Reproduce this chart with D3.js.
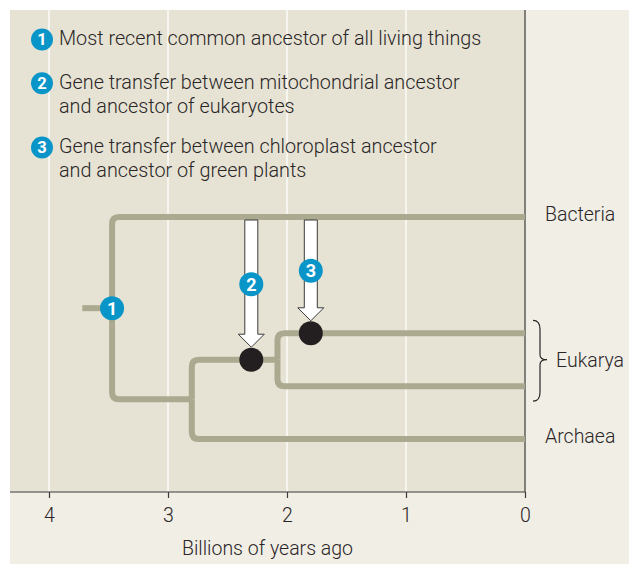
<!DOCTYPE html>
<html><head><meta charset="utf-8">
<script src="https://cdn.jsdelivr.net/npm/d3@7"></script>
<style>body{margin:0;background:#fff}svg{display:block}text{font-family:Roboto,sans-serif;fill:#2a2627}</style>
</head><body>
<svg id="c" width="629" height="566"></svg>
<script>
// ---- data ----
const tickValues = [4, 3, 2, 1, 0];
const axisTitle = "Billions of years ago";

const legendNumbers = [1, 2, 3];
const legendLines = [
  ["Most recent common ancestor of all living things"],
  ["Gene transfer between mitochondrial ancestor", "and ancestor of eukaryotes"],
  ["Gene transfer between chloroplast ancestor", "and ancestor of green plants"]
];

// tree (times in billions of years ago)
const nodeIds   = ["root", "LUCA", "Bacteria", "AE", "Euk", "Euk1", "Euk2", "Archaea"];
const nodeParent = ["", "root", "LUCA", "LUCA", "AE", "Euk", "Euk", "AE"];
const nodeTime  = [3.72, 3.47, 0, 2.80, 2.08, 0, 0, 0];
const leafRow   = {Bacteria: 0, Euk1: 2.2, Euk2: 3.2, Archaea: 4.2};

const groupLabels = ["Bacteria", "Eukarya", "Archaea"];
const groupRows   = [0, 2.7, 4.2];
const groupBraced = [false, true, false];

// gene-transfer events
const eventNumbers = [2, 3];
const eventTimes   = [2.30, 1.80];
const eventBranch  = ["Euk", "Euk1"];

// ---- drawing ----
const svg = d3.select("#c");
const C = {outer:"#f1eee6", plot:"#e6e3d4", tree:"#aba98f", blue:"#0a95c8", dot:"#231f20", ink:"#2a2627"};
const plotL = 10, plotT = 10, plotR = 525, plotB = 492;
const FS = 19.5;

const x = d3.scaleLinear().domain([4, 0]).range([49, 525]);
const y = d3.scaleLinear().domain([0, 4.2]).range([217, 439]);

svg.append("rect").attr("x", plotL).attr("y", plotT).attr("width", 629 - plotL).attr("height", 564 - plotT).attr("fill", C.outer);
svg.append("rect").attr("x", plotL).attr("y", plotT).attr("width", plotR - plotL).attr("height", plotB - plotT).attr("fill", C.plot);

// grid
svg.append("g").selectAll("line").data(tickValues.filter(d => d !== 0)).join("line")
  .attr("x1", d => x(d)).attr("x2", d => x(d)).attr("y1", plotT).attr("y2", plotB)
  .attr("stroke", "#fff").attr("stroke-width", 1.3);

// right border & axis
svg.append("line").attr("x1", plotR).attr("x2", plotR).attr("y1", plotT).attr("y2", plotB).attr("stroke", "#3a3a3a").attr("stroke-width", 1.2);
svg.append("line").attr("x1", plotL).attr("x2", plotR).attr("y1", plotB).attr("y2", plotB).attr("stroke", "#3a3a3a").attr("stroke-width", 1.2);
const ax = svg.append("g").attr("transform", `translate(0,${plotB})`)
  .call(d3.axisBottom(x).tickValues(tickValues).tickSize(6).tickPadding(10).tickFormat(d3.format("d")));
ax.select(".domain").remove();
ax.selectAll(".tick line").attr("stroke", "#3a3a3a").attr("stroke-width", 1.2);
ax.selectAll(".tick text").style("font-family", "Roboto,sans-serif").style("font-size", FS + "px").style("font-weight", 300).attr("fill", C.ink);
svg.append("text").attr("x", (plotL + plotR) / 2).attr("y", 548).attr("dy", "0.35em").attr("text-anchor", "middle")
  .style("font-size", FS + "px").style("font-weight", 300).text(axisTitle);

// tree
const table = nodeIds.map((id, i) => ({id, parent: nodeParent[i] || null, t: nodeTime[i]}));
const root = d3.stratify().id(d => d.id).parentId(d => d.parent)(table);
root.eachAfter(n => {
  if (!n.children) n.py = y(leafRow[n.id]);
  else n.py = (n.children[0].py + n.children[n.children.length - 1].py) / 2;
  n.px = x(n.data.t);
});
const r = 7;
function elbow(p, c) {
  const x0 = p.px, y0 = p.py, x1 = c.px, y1 = c.py;
  if (Math.abs(y1 - y0) < 0.5) return `M${x0},${y0}H${x1}`;
  const s = y1 > y0 ? 1 : -1;
  return `M${x0},${y0}V${y1 - s * r}Q${x0},${y1} ${x0 + r},${y1}H${x1}`;
}
svg.append("g").selectAll("path").data(root.links()).join("path")
  .attr("d", l => elbow(l.source, l.target))
  .attr("fill", "none").attr("stroke", C.tree).attr("stroke-width", 6).attr("stroke-linecap", "butt");

function badge(g, cx, cy, n, rad) {
  g.append("circle").attr("cx", cx).attr("cy", cy).attr("r", rad).attr("fill", C.blue);
  g.append("text").attr("x", cx).attr("y", cy).attr("dy", "0.36em").attr("text-anchor", "middle")
    .style("font-size", (rad * 1.5) + "px").style("font-weight", "bold").style("fill", "#fff").text(n);
}

// LUCA badge
const luca = root.descendants().find(n => n.id === "LUCA");
badge(svg.append("g"), luca.px, luca.py, 1, 12);

// events: dots, arrows, badges
const evG = svg.append("g");
eventNumbers.forEach((n, i) => {
  const node = root.descendants().find(d => d.id === eventBranch[i]);
  const cx = x(eventTimes[i]), cy = node.py, dr = 12;
  evG.append("circle").attr("cx", cx).attr("cy", cy).attr("r", dr).attr("fill", C.dot);
  const tip = cy - dr - 0.5, top = 220, hw = 6.5, hh = 13, hW = 13;
  evG.append("path")
    .attr("d", `M${cx - hw},${top}H${cx + hw}V${tip - hh}H${cx + hW}L${cx},${tip}L${cx - hW},${tip - hh}H${cx - hw}Z`)
    .attr("fill", "#fff").attr("stroke", "#3a3a3a").attr("stroke-width", 1);
  badge(evG, cx, tip - hh - (i === 0 ? 50 : 37), n, 12);
});

// leaf labels
groupLabels.forEach((lab, i) => {
  const yy = y(groupRows[i]);
  if (groupBraced[i]) {
    const x0 = 533, x1 = 548, y0 = y(2.2) - 13, y1 = y(3.2) + 15, ym = yy;
    const q = 5;
    svg.append("path").attr("d",
      `M${x0},${y0}Q${x0 + 7},${y0} ${x0 + 7},${y0 + q + 4}V${ym - q}Q${x0 + 7},${ym} ${x1 - 1},${ym}` +
      `Q${x0 + 7},${ym} ${x0 + 7},${ym + q}V${y1 - q - 4}Q${x0 + 7},${y1} ${x0},${y1}`)
      .attr("fill", "none").attr("stroke", C.ink).attr("stroke-width", 1.2);
    svg.append("text").attr("x", 556).attr("y", yy).attr("dy", "0.35em").style("font-size", FS + "px").style("font-weight", 300).text(lab);
  } else {
    svg.append("text").attr("x", 545).attr("y", yy - 3).attr("dy", "0.35em").style("font-size", FS + "px").style("font-weight", 300).text(lab);
  }
});

// legend
const lineY = [[38.5], [82.3, 105.8], [146.5, 170]];
legendNumbers.forEach((n, i) => {
  const g = svg.append("g");
  badge(g, 42, lineY[i][0] + 1, n, 11);
  legendLines[i].forEach((t, j) => {
    g.append("text").attr("x", 59).attr("y", lineY[i][j]).attr("dy", "0.35em").style("font-size", "19.8px").style("font-weight", 300).text(t);
  });
});
</script>
</body></html>
